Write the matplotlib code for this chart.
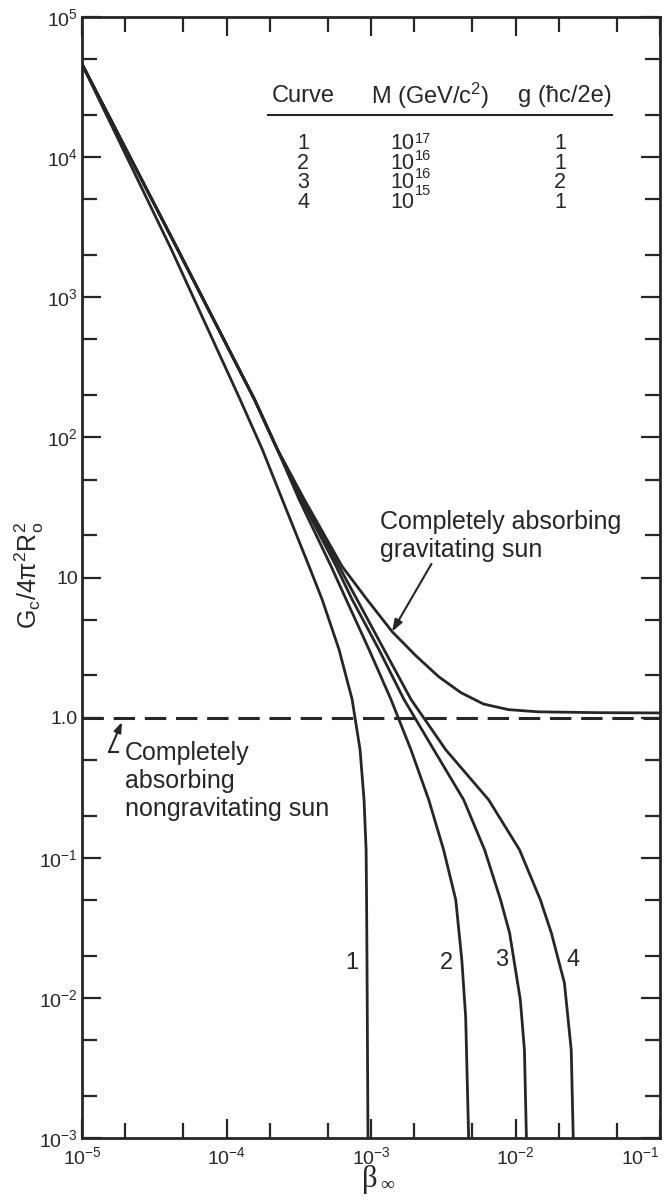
import matplotlib
matplotlib.use('Agg')
import matplotlib.pyplot as plt

plt.rcParams['font.family'] = ['Liberation Sans', 'DejaVu Sans']
plt.rcParams['mathtext.fontset'] = 'custom'
plt.rcParams['mathtext.rm'] = 'Liberation Sans'
plt.rcParams['mathtext.it'] = 'Liberation Sans:italic'
plt.rcParams['mathtext.bf'] = 'Liberation Sans:bold'
plt.rcParams['mathtext.sf'] = 'Liberation Sans'

INK = '#262626'

# ---------------- data ----------------
beta_1 = [1.00e-5, 4.15e-5, 1.24e-4, 1.77e-4, 2.43e-4, 3.73e-4, 4.59e-4,
          6.01e-4, 7.40e-4, 8.40e-4, 8.95e-4, 9.25e-4, 9.32e-4, 9.38e-4,
          9.53e-4]
G_1 = [4.61e4, 2.20e3, 187, 82.0, 36.1, 12.0, 6.97,
       3.06, 1.35, 0.590, 0.259, 0.114, 0.0501, 0.0187,
       1.0e-3]

beta_2 = [1.00e-5, 4.59e-5, 1.56e-4, 2.25e-4, 3.18e-4, 5.30e-4, 6.73e-4,
          9.69e-4, 1.374e-3, 1.89e-3, 2.51e-3, 3.18e-3, 3.86e-3,
          4.25e-3, 4.52e-3, 4.74e-3]
G_2 = [4.61e4, 2.20e3, 187, 82.0, 36.1, 12.0, 6.97,
       3.06, 1.35, 0.590, 0.259, 0.114, 0.0501,
       0.0187, 0.00731, 1.0e-3]

beta_3 = [1.00e-5, 4.59e-5, 1.56e-4, 2.25e-4, 3.29e-4, 5.74e-4, 7.40e-4,
          1.135e-3, 1.69e-3, 2.72e-3, 4.38e-3, 6.11e-3, 7.88e-3,
          9.10e-3, 1.08e-2, 1.153e-2, 1.19e-2]
G_3 = [4.61e4, 2.20e3, 187, 82.0, 36.1, 12.0, 6.97,
       3.06, 1.35, 0.590, 0.259, 0.114, 0.0501,
       0.0291, 0.00968, 0.00425, 1.0e-3]

beta_4 = [1.00e-5, 4.59e-5, 1.56e-4, 2.25e-4, 3.40e-4, 6.01e-4, 8.00e-4,
          1.23e-3, 1.89e-3, 3.29e-3, 6.52e-3, 1.066e-2, 1.486e-2,
          1.77e-2, 2.18e-2, 2.43e-2, 2.51e-2]
G_4 = [4.61e4, 2.20e3, 187, 82.0, 36.1, 12.0, 6.97,
       3.06, 1.35, 0.590, 0.259, 0.114, 0.0501,
       0.0291, 0.0128, 0.00425, 1.0e-3]

beta_grav = [1.00e-5, 4.59e-5, 1.56e-4, 2.25e-4, 3.45e-4, 6.31e-4, 9.38e-4,
             1.40e-3, 2.04e-3, 2.94e-3, 4.18e-3, 6.01e-3, 8.95e-3, 1.44e-2,
             3.73e-2, 1.0e-1]
G_grav = [4.61e4, 2.20e3, 187, 82.0, 36.1, 12.0, 6.97,
          4.11, 2.77, 1.96, 1.51, 1.25, 1.14, 1.10,
          1.085, 1.08]

beta_nongrav = [1.0e-5, 1.0e-1]
G_nongrav = [1.0, 1.0]

curve_labels = ['1', '2', '3', '4']
curve_label_beta = [7.40e-4, 3.34e-3, 8.0e-3, 2.51e-2]
curve_label_G = [0.0178, 0.0178, 0.0185, 0.0185]

x_major = [1e-5, 1e-4, 1e-3, 1e-2, 1e-1]
x_major_labels = [r'$\mathregular{10^{-5}}$', r'$\mathregular{10^{-4}}$',
                  r'$\mathregular{10^{-3}}$', r'$\mathregular{10^{-2}}$',
                  r'$\mathregular{10^{-1}}$']
x_minor = [2e-5, 5e-5, 2e-4, 5e-4, 2e-3, 5e-3, 2e-2, 5e-2]
y_major = [1e-3, 1e-2, 1e-1, 1, 10, 1e2, 1e3, 1e4, 1e5]
y_major_labels = [r'$\mathregular{10^{-3}}$', r'$\mathregular{10^{-2}}$',
                  r'$\mathregular{10^{-1}}$', '1.0', '10',
                  r'$\mathregular{10^{2}}$', r'$\mathregular{10^{3}}$',
                  r'$\mathregular{10^{4}}$', r'$\mathregular{10^{5}}$']
y_minor = [2e-3, 5e-3, 2e-2, 5e-2, 0.2, 0.5, 2, 5, 20, 50, 200, 500,
           2e3, 5e3, 2e4, 5e4]

table_header = ['Curve', r'M (GeV/c$^2$)', 'g (ħc/2e)']
table_curve = ['1', '2', '3', '4']
table_M_base = ['10', '10', '10', '10']
table_M_exp = ['17', '16', '16', '15']
table_g = ['1', '1', '2', '1']

# ---------------- figure ----------------
W, H = 667, 1200
fig = plt.figure(figsize=(W / 100, H / 100), dpi=100)
L, R, T, B = 82, 660, 17, 1138
ax = fig.add_axes([L / W, 1 - B / H, (R - L) / W, (B - T) / H])
ax.set_xscale('log')
ax.set_yscale('log')
ax.set_xlim(1e-5, 1e-1)
ax.set_ylim(1e-3, 1e5)

lw = 2.0
for bx, gy in [(beta_1, G_1), (beta_2, G_2), (beta_3, G_3), (beta_4, G_4),
               (beta_grav, G_grav)]:
    ax.plot(bx, gy, color=INK, lw=lw, solid_capstyle='butt',
            solid_joinstyle='round')
ax.plot(beta_nongrav, G_nongrav, color=INK, lw=2.2, dashes=(7, 3.2))

for lab, bx, gy in zip(curve_labels, curve_label_beta, curve_label_G):
    ax.text(bx, gy, lab, fontsize=17, color=INK, ha='center', va='center')

# axes styling
for sp in ax.spines.values():
    sp.set_linewidth(2.0)
    sp.set_color(INK)
ax.set_xticks(x_major)
ax.set_xticklabels(x_major_labels)
ax.set_xticks(x_minor, minor=True)
ax.set_xticklabels([], minor=True)
ax.set_yticks(y_major)
ax.set_yticklabels(y_major_labels)
ax.set_yticks(y_minor, minor=True)
ax.set_yticklabels([], minor=True)
ax.tick_params(which='both', direction='in', top=True, right=True,
               color=INK, width=1.6, labelcolor=INK, labelsize=14)
ax.tick_params(which='major', length=14)
ax.tick_params(which='minor', length=10.5)
ax.tick_params(axis='y', which='major', pad=3)
ax.tick_params(axis='x', which='major', pad=6)
# the last x label sits against the right edge, as in the reference
ax.xaxis.get_major_ticks()[-1].label1.set_horizontalalignment('right')

# axis labels
fig.text(29 / W, 1 - 575 / H, r'$\mathregular{G_c/4π^2R_o^2}$',
         rotation=90, ha='center', va='center', fontsize=18, color=INK)
fig.text(370 / W, 1 - 1180 / H, 'β', family=['Liberation Serif', 'DejaVu Serif'],
         fontsize=22, ha='center', va='center', color=INK)
fig.text(387 / W, 1 - 1186 / H, '∞', family=['Liberation Serif', 'DejaVu Serif'],
         fontsize=14, ha='center', va='center', color=INK)

# table
def axf(px, py):
    return ((px - L) / (R - L), (B - py) / (B - T))

hx = [303, 430, 565]
for txt, px in zip(table_header, hx):
    ax.text(*axf(px, 96), txt, transform=ax.transAxes, fontsize=17,
            ha='center', va='center', color=INK)
ax.plot([axf(268, 0)[0], axf(612, 0)[0]], [axf(0, 115)[1]] * 2,
        transform=ax.transAxes, color=INK, lw=1.5, clip_on=False)
rows_mid = 173
ax.text(*axf(303, rows_mid), '\n'.join(table_curve), transform=ax.transAxes,
        fontsize=15.5, linespacing=0.9, ha='center', va='center',
        multialignment='center', color=INK)
ax.text(*axf(414, rows_mid), '\n'.join(table_M_base), transform=ax.transAxes,
        fontsize=15.5, linespacing=0.9, ha='right', va='center',
        multialignment='right', color=INK)
ax.text(*axf(415, rows_mid - 8), '\n'.join(table_M_exp), transform=ax.transAxes,
        fontsize=10.5, linespacing=1.32, ha='left', va='center',
        multialignment='left', color=INK)
ax.text(*axf(560, rows_mid), '\n'.join(table_g), transform=ax.transAxes,
        fontsize=15.5, linespacing=0.9, ha='center', va='center',
        multialignment='center', color=INK)

# annotations
ax.text(*axf(380, 510), 'Completely absorbing\ngravitating sun',
        transform=ax.transAxes, fontsize=18, ha='left', va='top', color=INK)
ax.annotate('', xy=(1.40e-3, 4.11), xytext=(2.62e-3, 12.5),
            arrowprops=dict(arrowstyle='-|>,head_length=0.7,head_width=0.25',
                            color=INK, lw=1.5, shrinkA=0, shrinkB=0))

ax.text(*axf(125, 741), 'Completely\nabsorbing\nnongravitating sun',
        transform=ax.transAxes, fontsize=18, ha='left', va='top', color=INK)
ax.annotate('', xy=axf(122, 722), xytext=axf(109, 752),
            xycoords='axes fraction', textcoords='axes fraction',
            arrowprops=dict(arrowstyle='-|>,head_length=0.6,head_width=0.22',
                            color=INK, lw=1.5, shrinkA=0, shrinkB=0))
ax.plot([axf(109, 0)[0], axf(118, 0)[0]], [axf(0, 752)[1]] * 2,
        transform=ax.transAxes, color=INK, lw=1.5)

fig.savefig('out.png', dpi=100, facecolor='white')
